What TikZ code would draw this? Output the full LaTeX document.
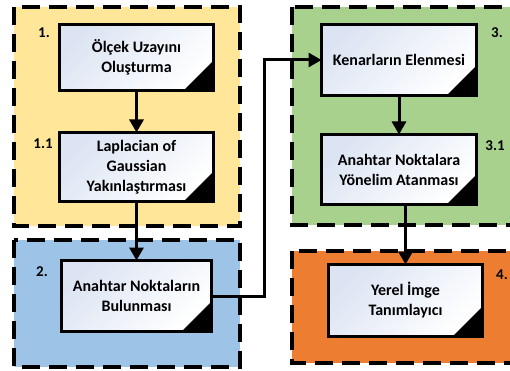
\documentclass[tikz,border=0pt]{standalone}
\usepackage{fontspec}
\setmainfont{Carlito}
\usetikzlibrary{arrows.meta}

\definecolor{grpyellow}{HTML}{FFE699}
\definecolor{grpblue}{HTML}{9DC3E6}
\definecolor{grpgreen}{HTML}{A9D18E}
\definecolor{grporange}{HTML}{ED7D31}
\definecolor{boxtint}{HTML}{DCE4F3}

\tikzset{
  group/.style={draw=black, line width=3.5pt, dash pattern=on 18pt off 9pt},
  stepbox/.style={draw=black, line width=3pt, outer sep=0pt, inner sep=0pt,
    top color=boxtint, bottom color=white, shading angle=45,
    align=center, font=\bfseries\fontsize{16}{20}\selectfont},
  fold/.style={fill=black},
  flow/.style={line width=3pt, -{Triangle[width=14pt,length=13pt]}},
  tag/.style={font=\bfseries\fontsize{15}{17}\selectfont},
}

\begin{document}
\begin{tikzpicture}[x=1pt,y=-1pt]
\useasboundingbox (0,0) rectangle (510,371);

% stage groups
\path[group, fill=grpyellow] (14,7) rectangle (240,226);
\path[group, fill=grpblue]   (14,240) rectangle (240,367);
\path[group, fill=grpgreen]  (292,7) rectangle (530,225);
\path[group, fill=grporange] (292,251) rectangle (530,363);

% processing steps
\node[stepbox, minimum width=154pt, minimum height=66pt] (b1)  at (136.5,57.5) {Ölçek Uzayını\\Oluşturma};
\node[stepbox, minimum width=154pt, minimum height=69pt] (b11) at (136.5,167)  {Laplacian of\\Gaussian\\Yakınlaştırması};
\node[stepbox, minimum width=150pt, minimum height=71pt] (b2)  at (136.5,296)  {Anahtar Noktaların\\Bulunması};
\node[stepbox, minimum width=155pt, minimum height=71pt] (b3)  at (399,60)     {Kenarların Elenmesi};
\node[stepbox, minimum width=155pt, minimum height=70pt] (b31) at (399,169.5)  {Anahtar Noktalara\\Yönelim Atanması};
\node[stepbox, minimum width=154pt, minimum height=72pt] (b4)  at (405.5,300.5){Yerel İmge\\Tanımlayıcı};

% folded corners
\foreach \b in {b1,b11,b2,b3,b31,b4}
  \fill[fold] (\b.south east) -- ++(-30,0) -- ++(30,-30) -- cycle;

% step numbers
\node[tag] (t1)  at (44,33)   {1.};
\node[tag] (t11) at (43,144)  {1.1};
\node[tag] (t2)  at (42,272)  {2.};
\node[tag] (t3)  at (497,33)  {3.};
\node[tag] (t31) at (495,146) {3.1};
\node[tag] (t4)  at (502,275) {4.};

% flow
\coordinate (via) at (264,180);
\draw[flow] (b1.south) -- (b11.north);
\draw[flow] (b11.south) -- (b2.north);
\draw[flow] (b2.east) -| (via) |- (b3.west);
\draw[flow] (b3.south) -- (b31.north);
\draw[flow] (b4.north |- b31.south) -- (b4.north);
\end{tikzpicture}
\end{document}
